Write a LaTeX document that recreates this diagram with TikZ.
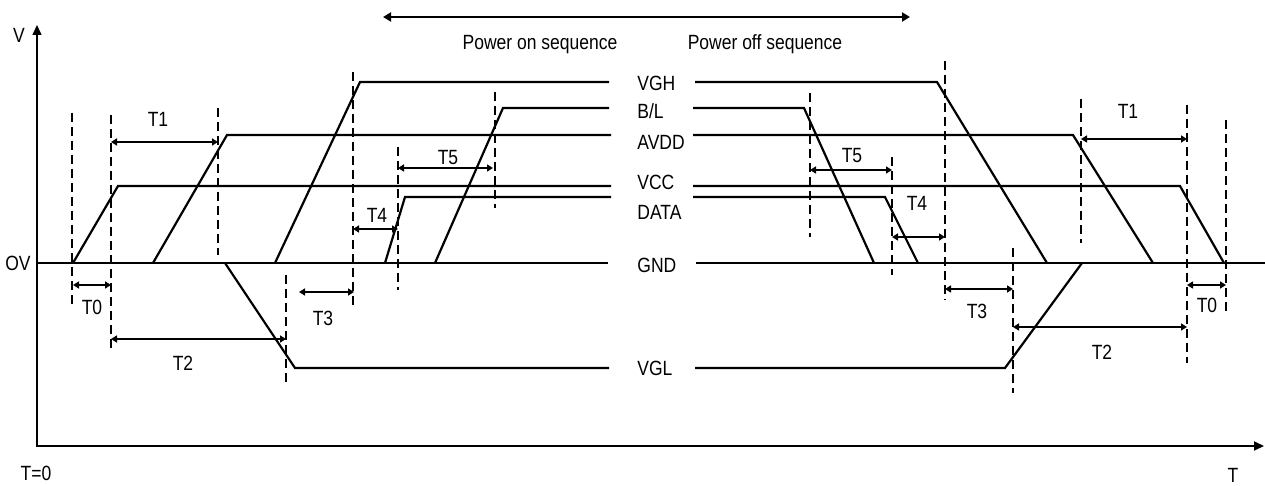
\documentclass[tikz,border=0pt]{standalone}
\usepackage{fontspec}
\setmainfont{Liberation Sans}[FakeStretch=0.85]
\usetikzlibrary{arrows.meta}
\tikzset{
  sig/.style={line width=1.1pt},
  marker/.style={line width=1pt,dash pattern=on 4.5pt off 2.5pt},
  span/.style={line width=1pt,{Triangle[length=3pt,width=3.5pt]}-{Triangle[length=3pt,width=3.5pt]}},
  lbl/.style={inner sep=0pt,text height=7.4pt,text depth=0pt,font=\fontsize{10.3}{12}\selectfont},
}
\begin{document}
\begin{tikzpicture}[x=0.5pt,y=-0.5pt]
  \useasboundingbox (0,0) rectangle (1265,486);
  % axes
  \draw[line width=0.7pt,-{Triangle[length=5pt,width=4.5pt]}] (37,447) -- (37,25);
  \draw[line width=1pt,-{Triangle[length=5pt,width=4.5pt]}] (37,446) -- (1264,446);
  \node[lbl] (v) at (19,35) {V};
  \node[lbl] (ov) at (18,263) {OV};
  \node[lbl] (t0) at (36,473) {T=0};
  \node[lbl] (t) at (1233,475) {T};
  % sequence labels
  \draw[line width=1pt,{Triangle[length=4pt,width=4.5pt]}-{Triangle[length=4pt,width=4.5pt]}] (383,17) -- (910,17);
  \node[lbl] (on) at (540,42) {Power on sequence};
  \node[lbl] (off) at (765,42) {Power off sequence};
  % rail names
  \foreach \id/\name/\y in {vgh/VGH/83,bl/{B/L}/111,avdd/AVDD/142,vcc/VCC/182,data/DATA/212,gnd/GND/265,vgl/VGL/368}
    \node[lbl,anchor=west] (rail-\id) at (637,\y) {\name};
  % power on
  \draw[sig] (37,263) -- (608,263);
  \draw[sig] (73,263) -- (118,186) -- (611,186);
  \draw[sig] (153,263) -- (227,135) -- (611,135);
  \draw[sig] (275,263) -- (360,82) -- (609,82);
  \draw[sig] (225,263) -- (295,368) -- (609,368);
  \draw[sig] (385,263) -- (405,197) -- (611,197);
  \draw[sig] (435,263) -- (503,108) -- (609,108);
  % power off
  \draw[sig] (696,263) -- (1265,263);
  \draw[sig] (695,82) -- (937,82) -- (1047,263);
  \draw[sig] (693,108) -- (804,108) -- (874,263);
  \draw[sig] (693,135) -- (1073,135) -- (1153,263);
  \draw[sig] (693,186) -- (1180,186) -- (1224,263);
  \draw[sig] (693,197) -- (885,197) -- (918,263);
  \draw[sig] (695,368) -- (1005,368) -- (1082,263);
  % markers
  \foreach \x/\a/\b in {72/113/305,111/115/350,218/108/255,286/275/382,353/72/308,
      398/147/290,495/92/208,810/93/237,892/157/275,945/61/300,1013/248/393,
      1081/99/243,1187/105/363,1226/120/316}
    \draw[marker] (\x,\a) -- (\x,\b);
  % delays
  \foreach \a/\b/\y/\txt/\lx/\ly [count=\i] in {73/111/285/T0/92/307,111/218/142/T1/158/119,
      111/286/339/T2/183/363,299/354/292/T3/323/318,353/398/229/T4/377/215,
      398/493/168/T5/448/157,810/892/170/T5/852/155,892/945/237/T4/917/203,
      945/1013/289/T3/977/311,1013/1187/327/T2/1102/352,1081/1187/139/T1/1128/111,
      1187/1226/285/T0/1207/305}{
    \draw[span] (\a,\y) -- (\b,\y);
    \node[lbl] (d\i) at (\lx,\ly) {\txt};
  }
\end{tikzpicture}
\end{document}
